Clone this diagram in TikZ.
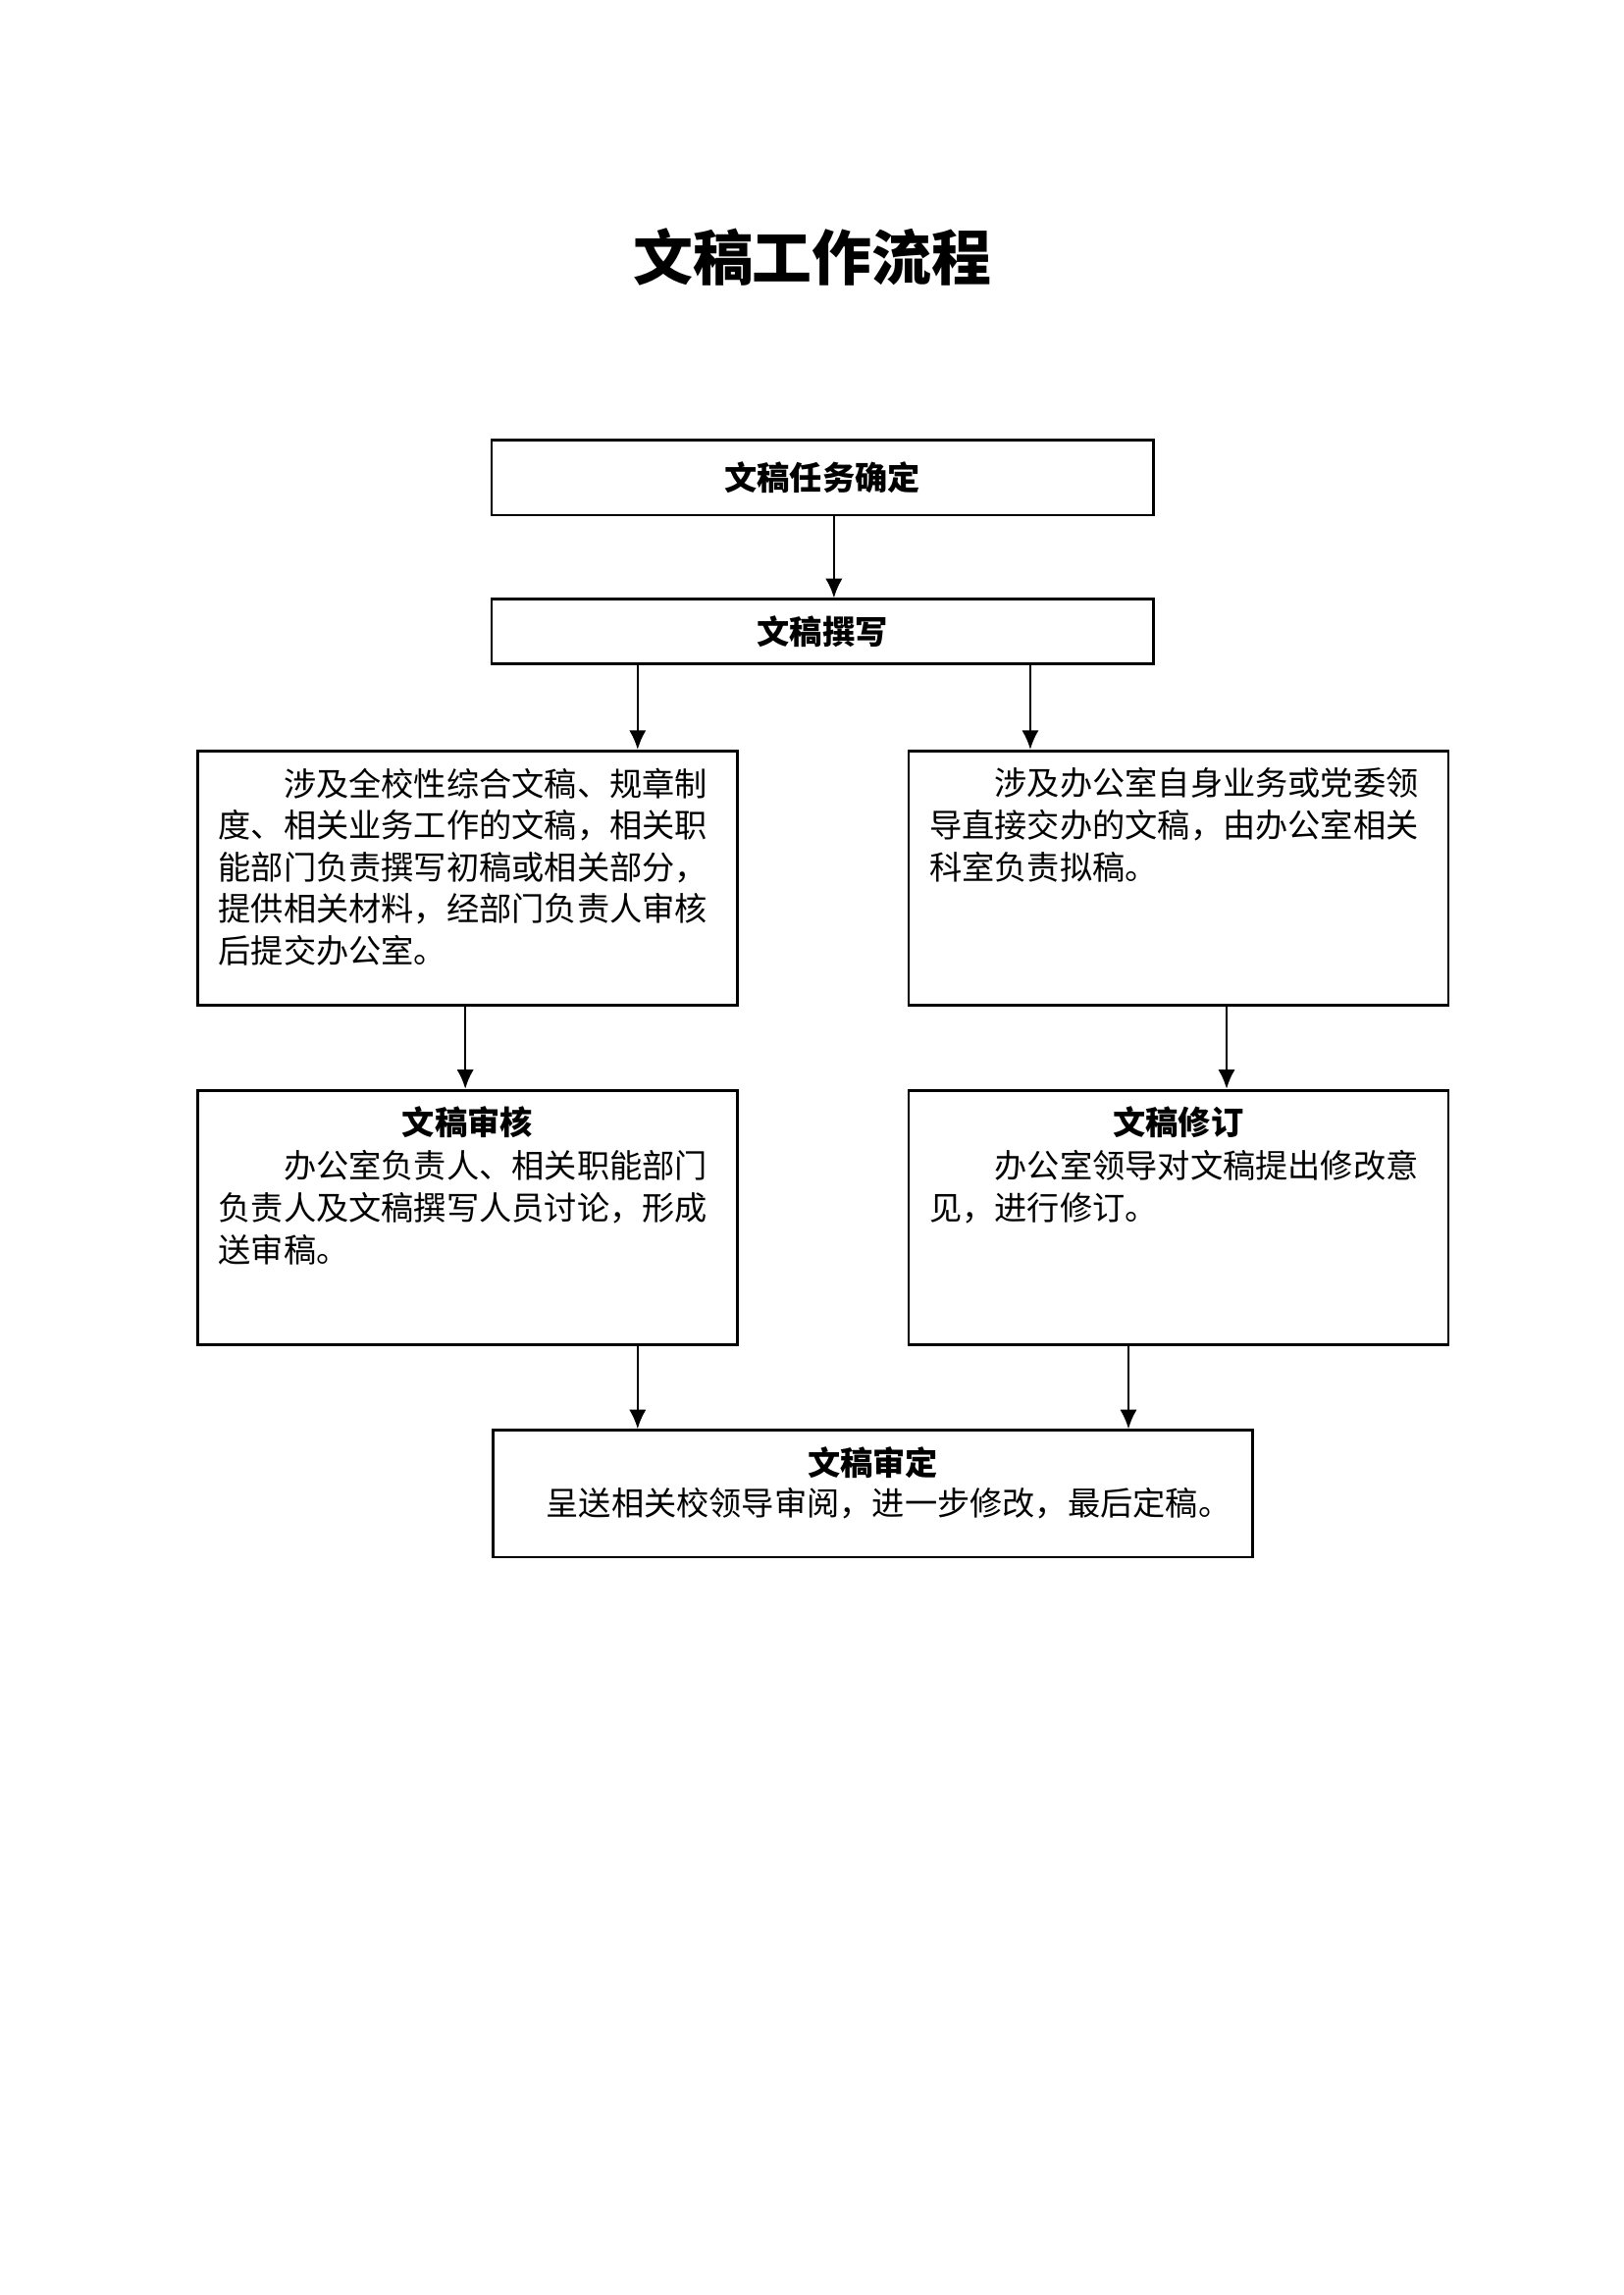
\documentclass[tikz,border=0pt]{standalone}
\usepackage{fontspec}
\newfontfamily\cjk{Noto Sans CJK SC}
\usepackage{tikz}
\usetikzlibrary{positioning,arrows.meta}
\tikzset{>={Latex[length=2.5mm,width=2.2mm]}}
\tikzset{
  box/.style={draw,line width=1pt,inner sep=0pt},
  body/.style={font=\cjk\fontsize{12pt}{15.4pt}\selectfont,inner sep=0pt,align=left},
  head/.style={font=\cjk\bfseries\fontsize{12pt}{15pt}\selectfont,inner sep=0pt},
  flow/.style={->,line width=0.9pt},
}

\begin{document}
\begin{tikzpicture}[x=1mm,y=-1mm]
\useasboundingbox (0,0) rectangle (210,296.96);
\node[font=\cjk\bfseries\fontsize{22pt}{26pt}\selectfont] (title) at (105.1,33.3) {文稿工作流程};

% top row
\node[box,head,minimum width=85.6mm,minimum height=9.7mm] (task) at (106.4,61.8) {文稿任务确定};
\node[box,head,minimum width=85.6mm,minimum height=8.3mm] (draft) at (106.4,81.7) {文稿撰写};

% two kinds of drafts
\node[box,anchor=north west,minimum width=69.8mm,minimum height=32.9mm] (school) at (25.4,97.0) {};
\node[body,below right=2.3mm and 2.8mm of school.north west] (schooltxt)
  {\hspace*{2em}涉及全校性综合文稿、规章制\\度、相关业务工作的文稿，相关职\\能部门负责撰写初稿或相关部分，\\提供相关材料，经部门负责人审核\\后提交办公室。};
\node[box,anchor=north west,minimum width=69.8mm,minimum height=32.9mm] (office) at (117.4,97.0) {};
\node[body,below right=2.3mm and 2.8mm of office.north west] (officetxt)
  {\hspace*{2em}涉及办公室自身业务或党委领\\导直接交办的文稿，由办公室相关\\科室负责拟稿。};

% review and revise
\node[box,anchor=north west,minimum width=69.8mm,minimum height=32.9mm] (review) at (25.4,140.9) {};
\node[head,below=2.2mm of review.north] (reviewhead) {文稿审核};
\node[body,below right=7.9mm and 2.8mm of review.north west] (reviewtxt)
  {\hspace*{2em}办公室负责人、相关职能部门\\负责人及文稿撰写人员讨论，形成\\送审稿。};
\node[box,anchor=north west,minimum width=69.8mm,minimum height=32.9mm] (revise) at (117.4,140.9) {};
\node[head,below=2.2mm of revise.north] (revisehead) {文稿修订};
\node[body,below right=7.9mm and 2.8mm of revise.north west] (revisetxt)
  {\hspace*{2em}办公室领导对文稿提出修改意\\见，进行修订。};

% final
\node[box,anchor=north west,minimum width=98.3mm,minimum height=16.4mm] (final) at (63.6,184.9) {};
\node[head,below=2.3mm of final.north] (finalhead) {文稿审定};
\node[body,below right=7.5mm and 7.0mm of final.north west] (finaltxt) {呈送相关校领导审阅，进一步修改，最后定稿。};

% arrows
\draw[flow] (task.south -| 107.9,0) -- (draft.north -| 107.9,0);
\draw[flow] (draft.south -| 82.5,0) -- (school.north -| 82.5,0);
\draw[flow] (draft.south -| 133.3,0) -- (office.north -| 133.3,0);
\draw[flow] (school.south -| 60.2,0) -- (review.north -| 60.2,0);
\draw[flow] (office.south -| 158.7,0) -- (revise.north -| 158.7,0);
\draw[flow] (review.south -| 82.5,0) -- (final.north -| 82.5,0);
\draw[flow] (revise.south -| 146.0,0) -- (final.north -| 146.0,0);
\end{tikzpicture}
\end{document}
